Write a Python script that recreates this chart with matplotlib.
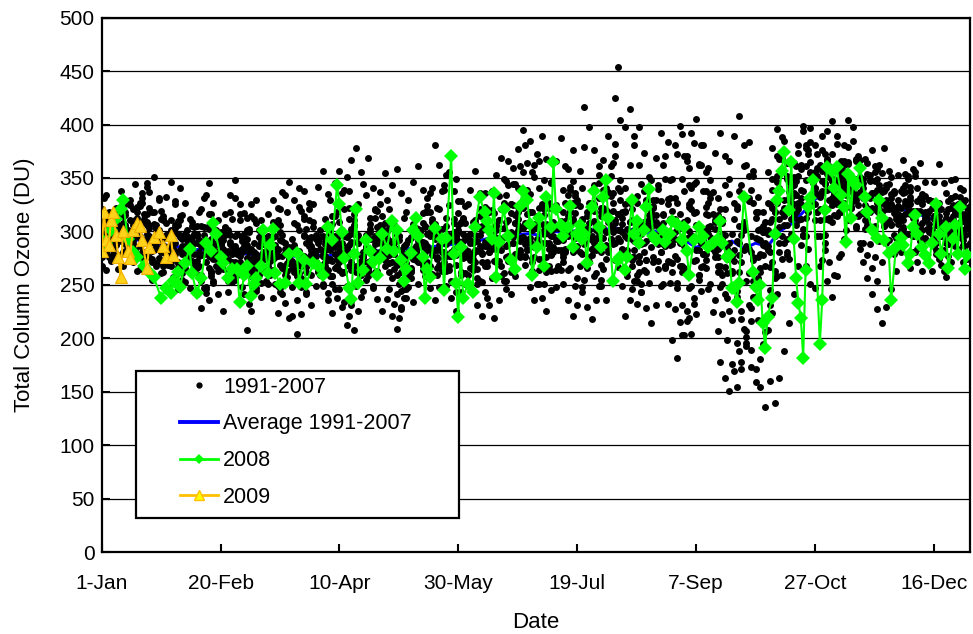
#!/usr/bin/env python3
"""
Total column ozone by day of year: 1991-2007 daily values, their average,
and the 2008 / 2009 series.
"""

import numpy as np
import matplotlib
matplotlib.use('Agg')
import matplotlib.pyplot as plt
from matplotlib.lines import Line2D
from matplotlib.patches import Rectangle


# =============================================================================
# Data (day of year / Dobson units)
# =============================================================================

TICK_DAYS = [1, 51, 101, 151, 201, 251, 301, 351]
TICK_LABELS = ['1-Jan', '20-Feb', '10-Apr', '30-May', '19-Jul', '7-Sep', '27-Oct', '16-Dec']

# 1991-2007 readings, each row sampled every other day (rows a,c,e,... start
# on day 1, rows b,d,f,... on day 2)
dots_row_a = [
    305, 312, 298, 287, 296, 318, 325, 309, 294, 281, 276, 289, 301, 311, 296, 284, 270, 279, 292, 305,
    298, 286, 271, 262, 275, 290, 304, 297, 283, 269, 258, 266, 281, 295, 288, 273, 264, 277, 291, 284,
    270, 259, 248, 262, 279, 293, 301, 288, 274, 266, 281, 296, 312, 305, 289, 271, 258, 247, 263, 280,
    294, 308, 297, 283, 270, 262, 279, 291, 305, 318, 302, 287, 275, 268, 284, 299, 313, 326, 309, 291,
    280, 271, 288, 306, 321, 334, 317, 298, 283, 276, 290, 307, 322, 315, 298, 281, 268, 279, 296, 312,
    327, 341, 318, 296, 283, 269, 287, 305, 425, 338, 319, 297, 276, 262, 281, 303, 322, 340, 315, 291,
    270, 252, 268, 294, 321, 346, 362, 338, 305, 281, 262, 241, 226, 249, 278, 306, 331, 352, 318, 287,
    301, 322, 346, 368, 352, 331, 347, 362, 378, 356, 341, 359, 372, 351, 334, 347, 366, 352, 338, 325,
    341, 354, 336, 319, 327, 343, 331, 314, 322, 337, 326, 311, 302, 318, 329, 314, 298, 306, 321, 309,
    298, 312, 304]
dots_row_b = [
    289, 276, 283, 297, 308, 301, 288, 279, 293, 306, 318, 304, 291, 279, 268, 282, 297, 286, 273, 264,
    277, 291, 302, 289, 276, 265, 254, 268, 283, 296, 287, 274, 261, 252, 264, 281, 296, 306, 289, 275,
    262, 281, 297, 289, 276, 263, 251, 242, 258, 274, 289, 276, 264, 251, 239, 255, 272, 288, 301, 292,
    278, 265, 251, 246, 263, 279, 294, 286, 271, 260, 274, 291, 305, 293, 278, 262, 251, 266, 283, 297,
    314, 302, 287, 272, 261, 277, 295, 312, 329, 316, 301, 286, 274, 262, 279, 294, 310, 327, 342, 325,
    306, 288, 271, 258, 249, 265, 284, 302, 316, 299, 283, 268, 254, 243, 262, 285, 306, 328, 349, 331,
    312, 289, 266, 247, 232, 255, 279, 304, 286, 268, 251, 274, 298, 321, 343, 362, 339, 313, 292, 268,
    245, 263, 289, 314, 337, 326, 311, 297, 318, 335, 352, 338, 321, 309, 326, 341, 356, 343, 329, 316,
    331, 318, 305, 292, 306, 321, 337, 324, 311, 298, 303, 317, 328, 316, 301, 289, 296, 311, 322, 307,
    295, 286, 301]
dots_row_c = [
    321, 334, 317, 303, 291, 282, 296, 311, 324, 309, 296, 283, 271, 262, 277, 292, 306, 315, 301, 288,
    272, 259, 248, 261, 276, 289, 278, 266, 255, 271, 286, 299, 312, 301, 289, 276, 261, 249, 266, 281,
    293, 306, 319, 302, 286, 271, 259, 268, 283, 296, 309, 321, 338, 316, 297, 281, 266, 274, 289, 303,
    286, 271, 259, 244, 238, 256, 273, 289, 304, 296, 283, 269, 281, 297, 312, 328, 309, 294, 279, 265,
    253, 268, 284, 271, 258, 246, 262, 279, 293, 308, 289, 276, 264, 251, 268, 285, 303, 318, 334, 347,
    329, 312, 297, 284, 301, 318, 333, 352, 371, 348, 326, 309, 291, 277, 264, 252, 271, 289, 308, 326,
    349, 372, 391, 366, 341, 318, 296, 273, 251, 236, 248, 267, 289, 312, 338, 361, 384, 357, 332, 305,
    327, 349, 371, 388, 364, 342, 319, 331, 348, 365, 381, 362, 344, 329, 315, 331, 348, 363, 349, 334,
    318, 306, 322, 339, 355, 341, 326, 312, 299, 316, 332, 319, 305, 294, 307, 322, 314, 299, 288, 302,
    316, 327, 311]
dots_row_d = [
    297, 309, 318, 304, 292, 284, 271, 263, 279, 294, 282, 270, 261, 274, 289, 303, 314, 298, 281, 269,
    289, 304, 316, 302, 287, 274, 262, 253, 266, 281, 269, 258, 247, 239, 254, 272, 287, 299, 284, 270,
    285, 301, 314, 327, 309, 291, 277, 264, 251, 266, 262, 249, 235, 251, 268, 284, 299, 313, 326, 308,
    321, 306, 292, 279, 265, 284, 302, 317, 331, 312, 296, 281, 266, 254, 243, 259, 276, 292, 308, 321,
    336, 318, 302, 287, 295, 311, 325, 341, 356, 337, 318, 304, 289, 276, 263, 248, 264, 281, 297, 283,
    268, 255, 271, 289, 306, 322, 337, 319, 301, 283, 263, 246, 232, 251, 273, 294, 315, 301, 286, 271,
    293, 316, 338, 359, 383, 362, 338, 315, 292, 276, 259, 238, 217, 196, 178, 201, 228, 253, 279, 301,
    326, 349, 368, 385, 366, 343, 321, 302, 326, 351, 372, 389, 368, 347, 331, 318, 334, 351, 366, 348,
    332, 347, 361, 343, 326, 311, 297, 284, 302, 318, 296, 284, 301, 316, 328, 311, 297, 289, 304, 318,
    309, 297, 288]
dots_row_e = [
    283, 297, 309, 322, 338, 326, 311, 298, 286, 274, 303, 318, 331, 314, 298, 281, 267, 255, 271, 287,
    305, 321, 334, 316, 301, 287, 273, 281, 296, 311, 298, 284, 271, 287, 302, 316, 329, 311, 297, 283,
    248, 236, 251, 267, 283, 297, 284, 271, 258, 246, 264, 281, 297, 311, 326, 344, 369, 341, 319, 296,
    271, 256, 241, 229, 247, 266, 284, 299, 281, 268, 305, 321, 339, 356, 338, 317, 298, 282, 268, 256,
    271, 286, 299, 284, 268, 254, 241, 258, 276, 293, 335, 351, 366, 348, 327, 306, 291, 276, 264, 281,
    296, 311, 294, 278, 261, 249, 236, 254, 273, 291, 341, 362, 381, 398, 373, 351, 329, 306, 288, 272,
    308, 327, 349, 371, 392, 405, 381, 356, 331, 309, 321, 343, 366, 389, 408, 381, 352, 327, 301, 278,
    286, 271, 258, 274, 293, 312, 334, 358, 381, 397, 326, 311, 297, 313, 329, 344, 362, 379, 398, 371,
    349, 364, 376, 358, 339, 321, 307, 294, 311, 328, 338, 352, 364, 346, 329, 312, 296, 283, 297, 314,
    326, 339, 322]
dots_row_f = [
    314, 301, 289, 278, 268, 284, 299, 313, 327, 342, 271, 284, 296, 308, 294, 279, 264, 253, 247, 262,
    259, 247, 236, 252, 268, 284, 299, 312, 298, 284, 313, 326, 308, 291, 276, 262, 251, 243, 259, 274,
    308, 323, 338, 321, 304, 289, 277, 292, 307, 318, 301, 285, 271, 262, 278, 293, 307, 321, 306, 292,
    246, 232, 219, 238, 257, 274, 291, 308, 324, 341, 259, 248, 263, 279, 294, 308, 324, 339, 357, 336,
    243, 231, 219, 236, 254, 272, 289, 306, 322, 339, 263, 251, 238, 226, 245, 264, 283, 301, 318, 336,
    281, 294, 308, 326, 345, 367, 389, 364, 341, 318, 296, 311, 327, 344, 329, 313, 297, 281, 266, 252,
    227, 215, 203, 219, 238, 259, 279, 298, 316, 331, 308, 284, 261, 239, 218, 196, 173, 159, 181, 206,
    231, 256, 281, 306, 329, 351, 373, 394, 376, 352, 296, 273, 254, 239, 258, 279, 301, 323, 346, 367,
    302, 288, 276, 291, 307, 323, 338, 353, 367, 349, 281, 271, 263, 277, 292, 306, 321, 336, 348, 333,
    318, 302, 289]
dots_row_g = [
    276, 264, 272, 288, 302, 315, 329, 344, 327, 312, 337, 351, 329, 312, 298, 284, 271, 283, 296, 309,
    266, 254, 242, 258, 274, 289, 303, 318, 331, 316, 241, 232, 248, 265, 281, 296, 309, 322, 337, 318,
    281, 268, 256, 243, 231, 249, 266, 283, 299, 314, 246, 234, 221, 208, 226, 244, 262, 279, 297, 314,
    329, 343, 358, 336, 318, 301, 286, 271, 258, 247, 236, 248, 263, 277, 292, 306, 291, 277, 264, 251,
    305, 321, 338, 353, 369, 347, 326, 308, 291, 277, 248, 236, 251, 267, 284, 302, 321, 339, 358, 376,
    256, 243, 229, 218, 236, 255, 274, 293, 311, 329, 221, 236, 254, 271, 289, 306, 324, 343, 362, 384,
    262, 247, 231, 216, 204, 223, 244, 266, 289, 311, 178, 163, 151, 169, 188, 209, 231, 254, 276, 299,
    356, 378, 396, 371, 349, 327, 306, 287, 268, 251, 311, 296, 283, 271, 259, 276, 293, 311, 328, 346,
    289, 278, 266, 254, 271, 289, 306, 322, 338, 354, 342, 356, 331, 315, 299, 286, 274, 263, 277, 291,
    284, 271, 266]
dots_row_h = [
    331, 318, 305, 293, 281, 296, 309, 323, 336, 345, 255, 268, 282, 297, 311, 326, 341, 327, 312, 298,
    318, 331, 345, 327, 311, 296, 282, 271, 259, 248, 208, 226, 244, 262, 279, 293, 307, 321, 334, 346,
    329, 341, 312, 294, 279, 263, 249, 236, 224, 238, 336, 351, 367, 378, 356, 334, 313, 296, 281, 268,
    262, 279, 296, 313, 329, 346, 361, 339, 318, 297, 322, 338, 353, 371, 349, 328, 308, 289, 271, 254,
    268, 281, 296, 311, 327, 343, 359, 377, 395, 364, 356, 372, 389, 368, 346, 325, 304, 284, 266, 249,
    357, 379, 398, 376, 353, 331, 309, 288, 267, 249, 258, 273, 289, 308, 327, 348, 369, 392, 371, 348,
    381, 399, 371, 343, 317, 292, 268, 246, 225, 207, 223, 198, 176, 154, 171, 193, 216, 239, 262, 286,
    281, 296, 312, 329, 346, 364, 381, 399, 372, 345, 359, 376, 394, 403, 382, 361, 341, 322, 305, 289,
    368, 353, 336, 321, 305, 292, 279, 291, 304, 317, 358, 341, 326, 312, 298, 283, 269, 257, 271, 286,
    341, 329, 317]
dots_row_i = [
    268, 281, 294, 308, 321, 306, 292, 279, 265, 277, 322, 307, 293, 281, 269, 257, 246, 261, 276, 291,
    241, 228, 246, 263, 281, 299, 316, 334, 348, 326, 317, 302, 289, 275, 263, 251, 238, 224, 241, 257,
    221, 204, 223, 241, 259, 277, 295, 312, 329, 345, 357, 339, 322, 306, 291, 276, 263, 249, 237, 226,
    237, 221, 209, 227, 246, 264, 283, 301, 318, 336, 381, 362, 343, 325, 308, 291, 275, 259, 244, 231,
    221, 238, 256, 273, 291, 309, 326, 344, 361, 381, 385, 362, 341, 321, 302, 284, 267, 251, 236, 221,
    231, 248, 266, 284, 303, 322, 341, 361, 382, 404, 398, 415, 389, 362, 338, 315, 293, 272, 251, 232,
    198, 182, 203, 226, 249, 273, 298, 323, 348, 373, 392, 371, 349, 327, 305, 283, 261, 239, 217, 195,
    208, 224, 241, 259, 278, 298, 318, 339, 361, 384, 247, 268, 289, 311, 334, 357, 381, 404, 385, 366,
    271, 256, 241, 227, 214, 229, 246, 263, 281, 298, 266, 281, 297, 313, 329, 346, 363, 345, 328, 311,
    301, 287, 274]
dots_row_j = [
    299, 287, 276, 265, 279, 293, 306, 318, 331, 316, 293, 306, 319, 332, 346, 328, 311, 295, 279, 266,
    292, 279, 266, 254, 241, 226, 243, 261, 279, 296, 301, 314, 329, 311, 294, 278, 262, 247, 233, 219,
    267, 282, 296, 311, 326, 342, 357, 335, 314, 294, 229, 212, 231, 249, 267, 285, 302, 320, 337, 355,
    303, 289, 274, 261, 248, 234, 251, 268, 286, 304, 276, 263, 249, 238, 226, 243, 261, 279, 297, 314,
    286, 301, 317, 333, 349, 366, 344, 323, 303, 284, 271, 289, 307, 326, 345, 366, 387, 361, 339, 317,
    296, 416, 327, 343, 361, 339, 318, 336, 454, 313, 294, 276, 259, 243, 228, 214, 231, 249, 268, 287,
    277, 293, 309, 326, 344, 363, 381, 359, 337, 315, 298, 281, 263, 244, 226, 207, 189, 171, 154, 136,
    160, 139, 163, 188, 214, 241, 268, 296, 323, 351, 318, 336, 354, 372, 389, 366, 344, 323, 303, 284,
    316, 331, 347, 362, 378, 357, 336, 316, 297, 279, 319, 304, 289, 276, 263, 279, 296, 313, 331, 349,
    332, 316, 301]
dots_row_k = [
    296, 304, 311, 302, 293, 288, 299, 307, 296, 289, 284, 293, 299, 287, 279, 291, 298, 286, 280, 295,
    289, 278, 284, 293, 281, 272, 279, 290, 286, 277, 283, 271, 276, 286, 279, 268, 274, 283, 277, 270,
    272, 281, 268, 275, 284, 271, 263, 277, 286, 279, 285, 274, 268, 281, 289, 276, 271, 283, 292, 280,
    278, 290, 284, 273, 288, 295, 281, 276, 289, 283, 293, 284, 279, 291, 299, 286, 280, 294, 289, 282,
    301, 289, 296, 305, 292, 286, 299, 308, 294, 288, 294, 303, 311, 298, 289, 296, 306, 292, 301, 309,
    297, 311, 303, 292, 306, 314, 299, 293, 308, 301, 296, 309, 301, 291, 304, 312, 297, 288, 302, 294,
    288, 301, 293, 282, 297, 306, 289, 279, 295, 302, 286, 297, 281, 272, 289, 301, 284, 276, 293, 299,
    298, 312, 327, 318, 306, 321, 334, 326, 313, 329, 341, 332, 345, 351, 337, 329, 343, 350, 336, 344,
    331, 322, 336, 327, 318, 329, 335, 321, 314, 326, 316, 307, 319, 311, 302, 314, 321, 306, 299, 311,
    307, 299, 305]
dots_row_l = [
    301, 292, 297, 306, 314, 299, 291, 303, 309, 298, 293, 286, 281, 294, 301, 289, 283, 296, 288, 279,
    281, 290, 277, 285, 294, 283, 274, 286, 280, 291, 275, 284, 279, 271, 282, 288, 276, 269, 280, 285,
    280, 271, 277, 286, 274, 266, 279, 284, 272, 268, 276, 284, 290, 279, 272, 285, 293, 281, 275, 287,
    288, 279, 274, 286, 292, 281, 276, 290, 285, 278, 283, 294, 288, 281, 296, 290, 284, 298, 291, 286,
    290, 299, 287, 294, 303, 297, 289, 301, 295, 306, 301, 293, 299, 307, 296, 291, 303, 310, 299, 294,
    305, 296, 301, 310, 297, 303, 312, 299, 294, 307, 302, 293, 306, 298, 291, 304, 309, 297, 301, 295,
    299, 291, 286, 300, 294, 283, 292, 303, 290, 284, 293, 284, 278, 291, 297, 286, 281, 294, 302, 289,
    309, 318, 304, 322, 331, 315, 327, 338, 324, 333, 335, 347, 339, 331, 344, 352, 338, 342, 349, 337,
    325, 334, 321, 330, 338, 324, 317, 329, 336, 322, 313, 319, 308, 316, 322, 309, 303, 317, 312, 305,
    302, 309, 298]
dots_row_m = [
    288, 279, 295, 310, 318, 304, 291, 283, 302, 316, 306, 294, 275, 268, 285, 299, 310, 293, 281, 272,
    296, 305, 291, 276, 268, 283, 297, 288, 271, 262, 290, 281, 267, 259, 273, 288, 295, 284, 268, 263,
    266, 258, 273, 289, 295, 282, 269, 291, 298, 285, 271, 262, 287, 298, 291, 277, 266, 293, 304, 288,
    300, 291, 269, 262, 277, 294, 303, 287, 268, 299, 307, 298, 271, 264, 279, 301, 312, 296, 274, 305,
    279, 312, 320, 301, 283, 276, 297, 315, 281, 269, 318, 285, 274, 301, 322, 309, 283, 271, 314, 327,
    286, 279, 314, 327, 293, 281, 320, 333, 289, 276, 318, 327, 283, 271, 309, 322, 276, 265, 316, 330,
    319, 274, 262, 311, 328, 283, 267, 316, 335, 276, 268, 321, 335, 283, 262, 309, 328, 273, 256, 318,
    283, 339, 352, 296, 281, 347, 361, 312, 296, 355, 356, 321, 312, 361, 349, 318, 327, 365, 331, 314,
    345, 312, 304, 349, 337, 309, 351, 316, 301, 343, 329, 298, 291, 333, 319, 295, 327, 301, 288, 325,
    321, 292, 316]
dots_row_n = [
    311, 287, 279, 316, 304, 286, 321, 296, 281, 309, 274, 302, 312, 283, 271, 306, 295, 266, 288, 304,
    268, 297, 305, 274, 263, 292, 301, 279, 266, 294, 293, 262, 270, 297, 287, 259, 281, 292, 264, 276,
    287, 261, 255, 292, 283, 262, 296, 273, 258, 290, 261, 295, 302, 268, 259, 297, 284, 262, 299, 273,
    270, 303, 296, 262, 281, 307, 271, 264, 298, 309, 266, 302, 313, 277, 269, 309, 296, 273, 311, 283,
    323, 281, 272, 311, 326, 288, 276, 318, 304, 283, 275, 314, 326, 289, 278, 321, 296, 282, 319, 333,
    324, 289, 276, 319, 331, 294, 281, 327, 316, 284, 279, 321, 333, 288, 273, 318, 329, 281, 268, 312,
    331, 268, 309, 323, 272, 259, 301, 327, 284, 262, 312, 261, 277, 324, 271, 254, 296, 318, 266, 309,
    267, 318, 341, 289, 274, 336, 352, 297, 284, 349, 318, 357, 366, 325, 314, 359, 342, 322, 368, 351,
    311, 348, 356, 317, 305, 344, 322, 307, 341, 352, 296, 328, 335, 302, 291, 323, 309, 293, 331, 317,
    296, 314, 324]

DOT_ROWS = [(dots_row_a, 1), (dots_row_b, 2), (dots_row_c, 1), (dots_row_d, 2), (dots_row_e, 1),
            (dots_row_f, 2), (dots_row_g, 1), (dots_row_h, 2), (dots_row_i, 1), (dots_row_j, 2),
            (dots_row_k, 1), (dots_row_l, 2), (dots_row_m, 1), (dots_row_n, 2)]

# Average 1991-2007, every 5th day
avg_days = list(range(1, 367, 5))
avg_values = [
    298, 296, 294, 292, 290, 288, 286, 285, 283, 283, 281, 281, 279, 278, 280, 277, 277, 276, 278, 277,
    279, 280, 278, 282, 281, 283, 284, 284, 286, 287, 289, 291, 292, 295, 294, 297, 298, 296, 300, 299,
    301, 302, 300, 304, 300, 303, 298, 302, 294, 292, 285, 290, 283, 291, 284, 289, 286, 300, 307, 318,
    330, 338, 336, 338, 333, 330, 326, 322, 318, 315, 311, 307, 304, 301]

# 2008
y2008_days = [
    1, 3, 5, 7, 9, 10, 12, 14, 16, 19, 21, 23, 26, 28, 30, 31, 33, 34, 36, 38,
    39, 41, 43, 45, 47, 48, 49, 51, 52, 54, 56, 58, 59, 61, 62, 64, 65, 66, 68, 69,
    71, 72, 73, 74, 76, 78, 80, 83, 84, 86, 87, 90, 92, 94, 96, 98, 100, 101, 102, 103,
    105, 106, 107, 108, 109, 111, 112, 114, 115, 117, 118, 119, 121, 123, 124, 125, 127, 128, 129, 131,
    132, 133, 134, 136, 137, 138, 139, 141, 144, 145, 146, 148, 149, 150, 151, 152, 153, 155, 157, 158,
    160, 162, 163, 164, 165, 166, 167, 168, 170, 172, 173, 175, 177, 178, 180, 181, 182, 184, 185, 187,
    188, 190, 191, 192, 194, 195, 197, 198, 199, 201, 202, 203, 204, 205, 207, 208, 210, 211, 212, 213,
    214, 216, 218, 219, 221, 222, 224, 225, 226, 227, 229, 230, 231, 233, 234, 237, 238, 240, 241, 243,
    245, 246, 247, 248, 250, 252, 253, 254, 256, 258, 260, 261, 262, 264, 265, 266, 267, 268, 269, 271,
    275, 276, 277, 278, 279, 280, 281, 283, 284, 285, 286, 287, 288, 290, 291, 292, 293, 294, 295, 296,
    297, 298, 299, 300, 303, 304, 305, 306, 308, 309, 310, 312, 313, 314, 315, 316, 317, 318, 320, 322,
    323, 325, 327, 328, 329, 330, 332, 333, 335, 337, 338, 340, 341, 342, 343, 344, 346, 347, 349, 350,
    352, 353, 354, 356, 357, 359, 360, 361, 362, 364, 365]
y2008_values = [
    292, 289, 301, 312, 321, 329, 293, 281, 276, 268, 262, 257, 238, 247, 242, 254, 262, 248, 270, 284,
    261, 242, 256, 289, 282, 308, 298, 276, 270, 256, 265, 265, 234, 259, 268, 240, 251, 256, 268, 301,
    261, 287, 302, 261, 251, 252, 279, 280, 252, 273, 251, 270, 268, 259, 304, 292, 343, 326, 299, 275,
    247, 237, 279, 321, 252, 264, 292, 282, 271, 259, 275, 298, 284, 310, 282, 301, 273, 254, 265, 280,
    301, 313, 296, 276, 238, 265, 257, 303, 293, 245, 294, 371, 279, 252, 220, 285, 238, 251, 243, 304,
    332, 318, 310, 301, 293, 336, 257, 290, 321, 296, 273, 265, 324, 338, 329, 307, 259, 285, 313, 268,
    332, 304, 365, 321, 306, 296, 304, 324, 285, 298, 306, 293, 298, 270, 323, 338, 304, 285, 332, 348,
    313, 254, 273, 276, 264, 276, 329, 298, 310, 289, 301, 323, 340, 296, 292, 301, 290, 298, 310, 307,
    292, 304, 282, 259, 292, 304, 294, 296, 285, 289, 293, 310, 289, 276, 278, 247, 247, 234, 252, 332,
    262, 248, 236, 250, 214, 191, 220, 238, 298, 329, 338, 357, 374, 320, 365, 293, 256, 233, 219, 182,
    264, 323, 331, 348, 195, 236, 320, 360, 357, 341, 360, 334, 323, 290, 354, 313, 348, 343, 359, 332,
    318, 301, 294, 329, 313, 292, 280, 236, 285, 294, 287, 270, 279, 304, 315, 298, 285, 278, 270, 289,
    326, 298, 279, 304, 266, 293, 306, 279, 323, 265, 278]

# 2009
y2009_days = [1, 2, 3, 4, 5, 6, 7, 8, 9, 10, 12, 13, 14, 16, 17, 18, 20, 21, 23, 25, 27, 28, 30, 31]
y2009_values = [282, 318, 292, 287, 311, 318, 297, 276, 257, 300, 282, 275, 301, 308, 305, 292,
                266, 285, 295, 299, 286, 276, 297, 278]


# =============================================================================
# Plot
# =============================================================================

def build_chart(save_path: str):
    plt.rcParams['font.family'] = ['Liberation Sans', 'DejaVu Sans']

    fig = plt.figure(figsize=(9.73, 6.34), dpi=100)
    ax = fig.add_axes([0.1044, 0.1293, 0.8922, 0.8428])

    # average line sits under the scattered points
    ax.plot(avg_days, avg_values, color='#0000FF', linewidth=2.2, zorder=2)

    for row, start in DOT_ROWS:
        days = start + 2 * np.arange(len(row))
        ax.plot(days, row, linestyle='none', marker='o', markersize=5,
                color='black', markeredgewidth=0, zorder=3)

    ax.plot(y2008_days, y2008_values, color='#00FF00', linewidth=1.5,
            marker='D', markersize=7, markeredgewidth=0, zorder=4)
    ax.plot(y2009_days, y2009_values, color='#FFC000', linewidth=1.5,
            marker='^', markersize=8.5, markerfacecolor='#FFD21A',
            markeredgecolor='#F0B000', markeredgewidth=0.8, zorder=5)

    # axes
    ax.set_xlim(1, 366)
    ax.set_ylim(0, 500)
    ax.set_xticks(TICK_DAYS)
    ax.set_xticklabels(TICK_LABELS)
    ax.set_yticks(range(0, 501, 50))
    ax.tick_params(axis='both', direction='in', length=6, width=1.5, labelsize=15)
    ax.tick_params(axis='x', pad=16)
    ax.tick_params(axis='y', pad=5)
    for s in ax.spines.values():
        s.set_linewidth(1.6)
    ax.yaxis.grid(True, color='black', linewidth=0.9)
    ax.set_axisbelow(True)

    ax.set_xlabel('Date', fontsize=16)
    ax.set_ylabel('Total Column Ozone (DU)', fontsize=16)
    ax.xaxis.set_label_coords(0.5, -0.112)
    ax.yaxis.set_label_coords(-0.077, 0.5)

    # legend: white box drawn separately, entries on top
    box = Rectangle((0.0396, 0.0636), 0.372, 0.275, transform=ax.transAxes,
                    facecolor='white', edgecolor='black', linewidth=1.6, zorder=10)
    ax.add_patch(box)
    handles = [
        Line2D([], [], linestyle='none', marker='o', markersize=3.5, color='black'),
        Line2D([], [], color='#0000FF', linewidth=2.8),
        Line2D([], [], color='#00FF00', linewidth=2, marker='D', markersize=5, markeredgewidth=0),
        Line2D([], [], color='#FFC000', linewidth=2, marker='^', markersize=7,
               markerfacecolor='#FFFF00', markeredgecolor='#FFC000'),
    ]
    labels = ['1991-2007', 'Average 1991-2007', '2008', '2009']
    leg = ax.legend(handles, labels, loc='upper left', bbox_to_anchor=(0.0903, 0.328),
                    frameon=False, fontsize=15.5, handlelength=1.75, handletextpad=0.25,
                    labelspacing=0.73, borderpad=0, borderaxespad=0)
    leg.set_zorder(11)

    fig.savefig(save_path, dpi=100, facecolor='white')
    plt.close(fig)


def main():
    build_chart('out.png')


if __name__ == "__main__":
    main()
